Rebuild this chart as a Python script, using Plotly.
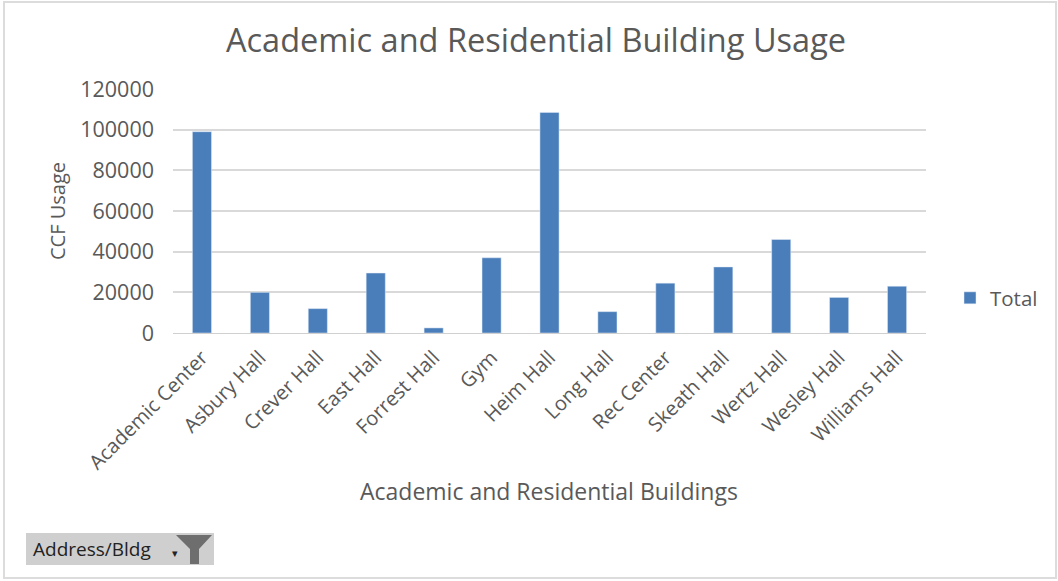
import plotly.graph_objects as go

categories = ["Academic Center","Asbury Hall","Crever Hall","East Hall","Forrest Hall","Gym","Heim Hall","Long Hall","Rec Center","Skeath Hall","Wertz Hall","Wesley Hall","Williams Hall"]
values = [99000,20000,12000,29500,2500,37000,108500,10500,24500,32500,46000,17500,23000]
tick_values = [0,20000,40000,60000,80000,100000,120000]
GREY = "#595959"
FONT = "Open Sans, DejaVu Sans, sans-serif"
W, H = 1058, 581
px = lambda x: x / W
py = lambda y: 1 - y / H

fig = go.Figure(go.Bar(x=categories, y=values, name="Total", marker_color="#4a7ebb", showlegend=True, width=0.33))
fig.update_layout(
    width=W, height=H, margin=dict(l=0,r=0,t=0,b=0,autoexpand=False),
    paper_bgcolor="white", plot_bgcolor="white", font=dict(family=FONT, color=GREY),
    title=dict(text="Academic and Residential Building Usage", x=px(536), xanchor="center", y=py(41), yanchor="middle", font=dict(size=32.5, color=GREY)),
    xaxis=dict(domain=[px(173),px(926)], automargin=False, tickangle=-45, ticklabelstandoff=4, tickfont=dict(size=20,color=GREY), showline=True, linecolor="#d0d0d0", ticks=""),
    yaxis=dict(domain=[py(333),py(89)], automargin=False, range=[0,120000], tickvals=tick_values, tickformat="d", ticklabelstandoff=18, tickfont=dict(size=21.5,color=GREY), gridcolor="#d9d9d9", gridwidth=1.5, zeroline=False, ticks=""),
    legend=dict(x=px(950), y=py(298), xanchor="left", yanchor="middle", font=dict(size=20.5,color=GREY), bgcolor="rgba(0,0,0,0)"),
    shapes=[dict(type="rect",xref="paper",yref="paper",x0=px(4),x1=px(1056),y0=py(578),y1=py(2),line=dict(color="#dcdcdc",width=2),layer="below"),
            dict(type="rect",xref="paper",yref="paper",x0=px(26),x1=px(214),y0=py(565),y1=py(533),fillcolor="#cfcfcf",line=dict(width=0)),
            dict(type="path",xref="paper",yref="paper",path=f"M {px(176)} {py(535)} L {px(212)} {py(535)} L {px(199)} {py(549)} L {px(199)} {py(564)} L {px(190)} {py(564)} L {px(190)} {py(549)} Z",fillcolor="#6e6e6e",line=dict(width=0))],
    annotations=[dict(text="Address/Bldg",xref="paper",yref="paper",x=px(31),y=py(549),xanchor="left",yanchor="middle",showarrow=False,font=dict(size=19,color="#222222")),
                 dict(text="▾",xref="paper",yref="paper",x=px(175),y=py(552),xanchor="center",yanchor="middle",showarrow=False,font=dict(size=11,color="#222222")),
                 dict(text="Academic and Residential Buildings",xref="paper",yref="paper",x=px(549),y=py(491),xanchor="center",yanchor="middle",showarrow=False,font=dict(size=23,color=GREY)),
                 dict(text="CCF Usage",xref="paper",yref="paper",x=px(57),y=py(211),xanchor="center",yanchor="middle",textangle=-90,showarrow=False,font=dict(size=20,color=GREY))],
)
fig.write_html("out.html", post_script="document.body.style.margin='0';", config={"displayModeBar": False})
